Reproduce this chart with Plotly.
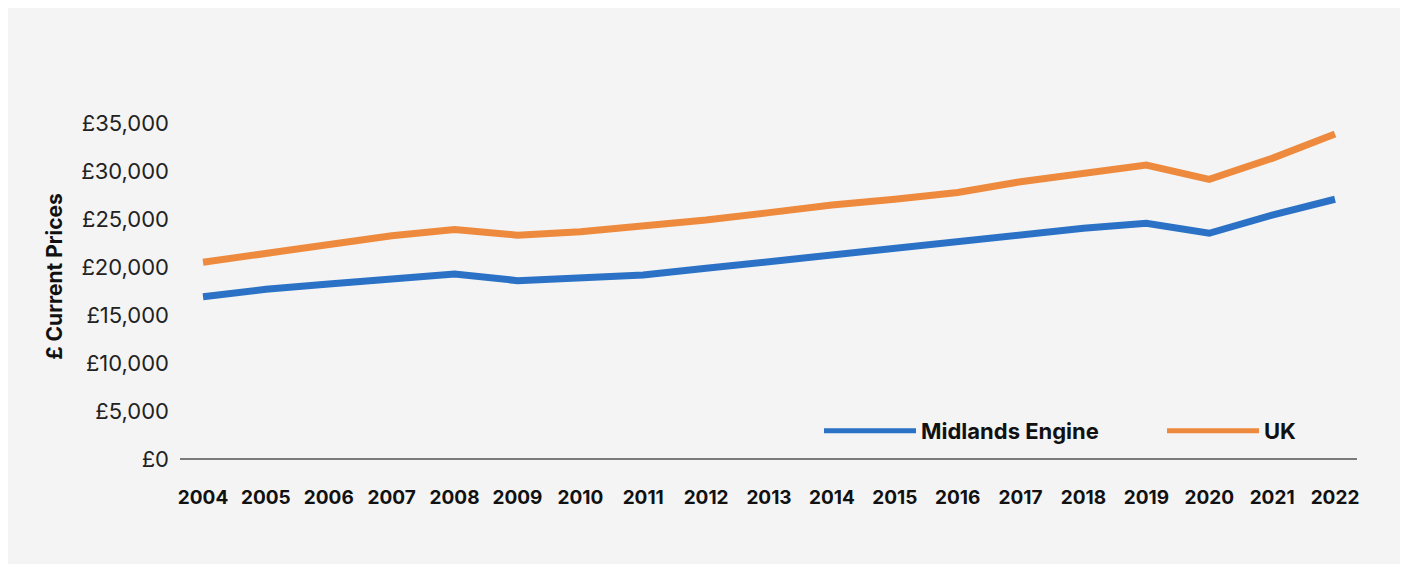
import plotly.graph_objects as go

years = list(range(2004, 2023))
midlands = [16900, 17670, 18220, 18740, 19260, 18570, 18950, 19160, 19850, 20550,
            21240, 21930, 22550, 23220, 24020, 24540, 23500, 25400, 27040]
uk = [20480, 21400, 22350, 23250, 23900, 23300, 23670, 24190, 24880, 25650,
      26440, 27040, 27750, 28870, 29740, 30600, 29120, 31300, 33840]
y_ticks = [0, 5000, 10000, 15000, 20000, 25000, 30000, 35000]
y_tick_labels = ["£0", "£5,000", "£10,000", "£15,000", "£20,000", "£25,000", "£30,000", "£35,000"]

BLUE = "#2b72c6"
ORANGE = "#ee8a3d"

fig = go.Figure()
fig.add_trace(go.Scatter(x=years, y=midlands, mode="lines", name="Midlands Engine",
                         line=dict(color=BLUE, width=7), legend="legend"))
fig.add_trace(go.Scatter(x=years, y=uk, mode="lines", name="UK",
                         line=dict(color=ORANGE, width=7), legend="legend2"))

# page has an 8px body margin; figure occupies (8,8)-(1400,564)
W, H = 1392, 556
L, R, T, B = 172, 43, 86, 105
pw, ph = W - L - R, H - T - B

def px_x(p):
    return (p - L) / pw

def px_y(p):
    return (H - B - p) / ph

legend_style = dict(orientation="h", y=px_y(423), xanchor="left", yanchor="middle",
                    font=dict(family="Inter", size=22, color="#111", weight="bold"),
                    itemwidth=92, bgcolor="rgba(0,0,0,0)", itemsizing="constant")

fig.update_layout(
    width=W, height=H,
    margin=dict(l=L, r=R, t=T, b=B, autoexpand=False),
    paper_bgcolor="#f4f4f4",
    plot_bgcolor="rgba(0,0,0,0)",
    font=dict(family="Inter", color="#1a1a1a"),
    showlegend=True,
    legend=dict(x=px_x(811), **legend_style),
    legend2=dict(x=px_x(1154), **legend_style),
    xaxis=dict(
        range=[2003.634, 2022.35], tickmode="array", tickvals=years,
        ticktext=[str(y) for y in years], showgrid=False, zeroline=False,
        showline=False, ticks="", ticklabelstandoff=25, tickangle=0,
        tickfont=dict(family="Inter", size=19, color="#111", weight="bold"),
    ),
    yaxis=dict(
        range=[0, 38000], tickmode="array", tickvals=y_ticks, ticktext=y_tick_labels,
        showgrid=False, zeroline=True, zerolinecolor="#7a7a7a", zerolinewidth=1.5,
        showline=False, ticks="", ticklabelstandoff=10,
        tickfont=dict(family="Inter", size=22, color="#222"),
        title=dict(text="£ Current Prices", standoff=12,
                   font=dict(family="Inter", size=21, color="#111", weight="bold")),
    ),
)

fig.write_html("out.html")
